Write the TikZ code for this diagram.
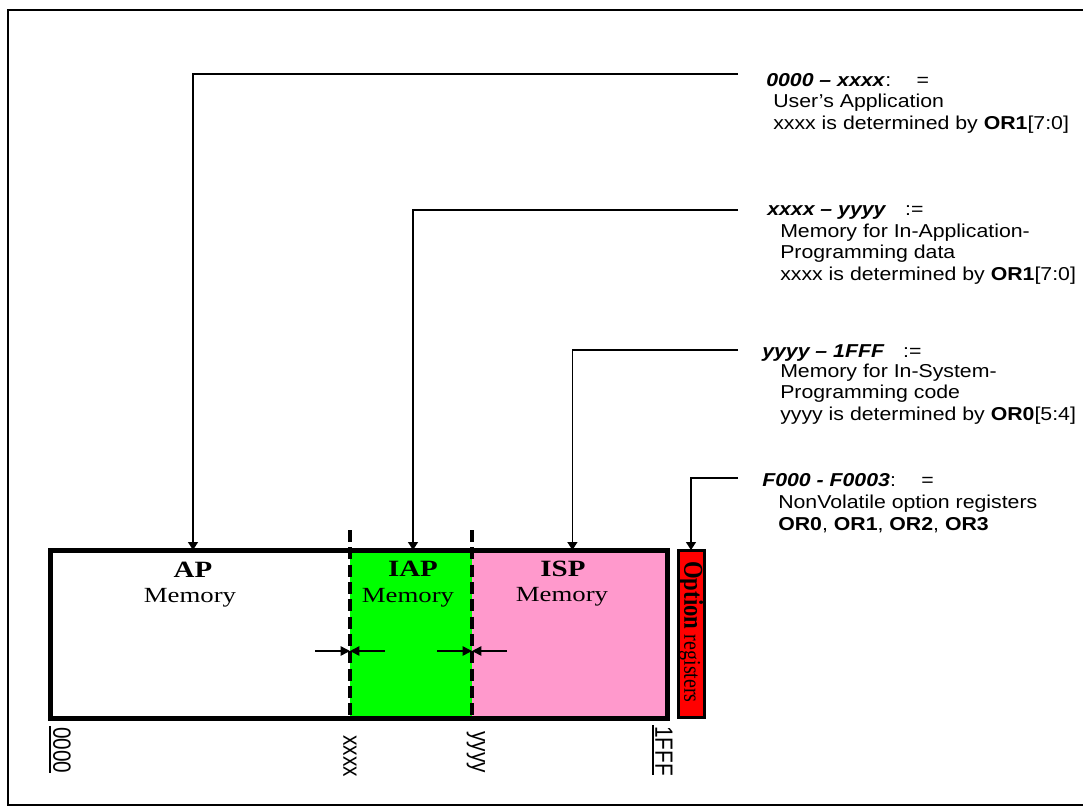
\documentclass[tikz,border=0pt]{standalone}
\usepackage{fontspec}
\setmainfont{Liberation Serif}[FakeStretch=1.24]
\newfontfamily\arialw{Liberation Sans}[FakeStretch=1.14]
\newfontfamily\arial{Liberation Sans}
\newfontfamily\timesn{Liberation Serif}
\usetikzlibrary{arrows.meta}
\definecolor{iapgreen}{RGB}{0,255,0}
\definecolor{isppink}{RGB}{255,153,204}
\definecolor{optred}{RGB}{255,0,0}
\begin{document}
\begin{tikzpicture}[x=0.75pt,y=-0.75pt,
	callout/.style={line width=1.1pt,-{Triangle[length=6pt,width=7.5pt]}},
	gaparrow/.style={line width=1.1pt,-{Triangle[length=7pt,width=7pt]}},
	region/.style={inner sep=0pt,outer sep=0pt,minimum height=126pt,anchor=north west},
	divider/.style={line width=3pt,dash pattern=on 9pt off 4pt},
	memtitle/.style={anchor=base,inner sep=0pt,font=\fontsize{17.5}{20}\selectfont\bfseries},
	memtext/.style={anchor=base,inner sep=0pt,font=\fontsize{16.2}{19}\selectfont},
	keytext/.style={anchor=base west,inner sep=0pt,font=\arialw\fontsize{14}{16}\selectfont},
	addr/.style={anchor=west,rotate=-90,yscale=1.2,inner sep=0pt,font=\arial\fontsize{15.6}{18}\selectfont}]
	\useasboundingbox (0,0) rectangle (1083,810);
	\draw[line width=1.5pt] (8,10) rectangle (1100,805);
	
	% memory map
	\node[region,minimum width=225pt] (ap) at (50,550) {};
	\node[region,fill=iapgreen,minimum width=91.5pt] (iap) at (350,550) {};
	\node[region,fill=isppink,minimum width=146.6pt] (isp) at (472,550) {};
	\node[region,draw,line width=2.25pt,fill=optred,minimum width=19.5pt,minimum height=125.25pt] (opt) at (678,550) {};
	\draw[divider] (iap.north west) ++(0,-20) -- (iap.south west);
	\draw[divider] (isp.north west) ++(0,-20) -- (isp.south west);
	\draw[line width=3.75pt] (ap.north west) rectangle (isp.south east);
	
	\node[memtitle] (aptitle) at (193,577) {AP};
	\node[memtext] (apmem) at (190,602) {Memory};
	\node[memtitle] (iaptitle) at (413,576) {IAP};
	\node[memtext] (iapmem) at (408,602) {Memory};
	\node[memtitle] (isptitle) at (563,576) {ISP};
	\node[memtext] (ispmem) at (562,601) {Memory};
	\node[anchor=west,rotate=-90,yscale=1.2,inner sep=0pt] (optlbl) at (691,561) {\timesn\fontsize{17}{20}\selectfont\bfseries Option \fontsize{15}{18}\selectfont\mdseries registers};
	
	% borders xxxx and yyyy
	\coordinate (xb) at (350,651);
	\coordinate (yb) at (472,651);
	\draw[gaparrow] (315,651) -- (xb);
	\draw[gaparrow] (385,651) -- (xb);
	\draw[gaparrow] (437,651) -- (yb);
	\draw[gaparrow] (507,651) -- (yb);
	
	% addresses
	\draw[line width=1.1pt] (50,726) -- (50,773);
	\node[addr] (a0) at (62,727) {0000};
	\node[addr] (ax) at (350,735) {xxxx};
	\node[addr] (ay) at (476,731) {yyyy};
	\draw[line width=1.1pt] (653,725) -- (653,775);
	\node[addr] (af) at (664,726) {1FFF};
	
	% key
	\node[keytext] (t1) at (766,86) {\textbf{\textit{0000 – xxxx}}:\hspace{19pt}=};
	\node[keytext] (t1a) at (773,107) {User’s Application};
	\node[keytext] (t1b) at (773,129) {xxxx is determined by \textbf{OR1}[7:0]};
	
	\node[keytext] (t2) at (767,215) {\textbf{\textit{xxxx – yyyy}}\hspace{14pt}:=};
	\node[keytext] (t2a) at (780,237) {Memory for In-Application-};
	\node[keytext] (t2b) at (780,258) {Programming data};
	\node[keytext] (t2c) at (780,280) {xxxx is determined by \textbf{OR1}[7:0]};
	
	\node[keytext] (t3) at (762,357) {\textbf{\textit{yyyy – 1FFF}}\hspace{14pt}:=};
	\node[keytext] (t3a) at (780,377) {Memory for In-System-};
	\node[keytext] (t3b) at (780,398) {Programming code};
	\node[keytext] (t3c) at (780,420) {yyyy is determined by \textbf{OR0}[5:4]};
	
	\node[keytext] (t4) at (762,486) {\textbf{\textit{F000 - F0003}}:\hspace{19pt}=};
	\node[keytext] (t4a) at (778,508) {NonVolatile option registers};
	\node[keytext] (t4b) at (778,530) {\textbf{OR0}, \textbf{OR1}, \textbf{OR2}, \textbf{OR3}};
	
	\coordinate (c1) at (738,74);
	\coordinate (c2) at (738,210);
	\coordinate (c3) at (738,350);
	\coordinate (c4) at (738,478);
	\draw[callout] (c1) -| (aptitle |- ap.north);
	\draw[callout] (c2) -| (iaptitle |- iap.north);
	\draw[callout] (c3) -| ([xshift=2pt]isp.north);
	\draw[callout] (c4) -| (opt.north);
\end{tikzpicture}
\end{document}
